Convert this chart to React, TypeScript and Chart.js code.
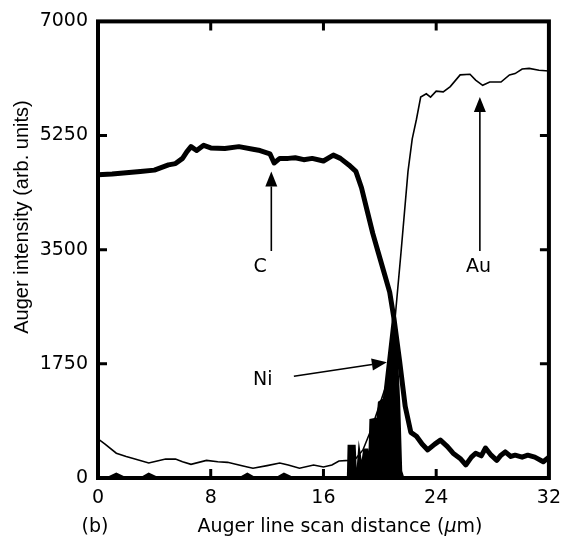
import React, { useEffect, useRef } from "react";
import { Chart, registerables } from "chart.js";

Chart.register(...registerables);

// ---- data ----
const cX = [0, 1, 2, 3, 4, 5, 5.5, 6, 6.3, 6.6, 7, 7.5, 8, 9, 10, 11, 11.5, 12.2, 12.5, 12.9, 13.5, 14, 14.6, 15.2, 16, 16.7, 17.2, 17.8, 18.3, 18.7, 19.1, 19.5, 19.9, 20.3, 20.7, 21.0, 21.4, 21.8, 22.2, 22.6, 23.0, 23.4, 23.9, 24.3, 24.8, 25.2, 25.7, 26.1, 26.5, 26.8, 27.2, 27.5, 27.9, 28.3, 28.6, 28.9, 29.3, 29.6, 30.1, 30.5, 31.0, 31.6, 32];
const cY = [4650, 4660, 4680, 4700, 4720, 4800, 4820, 4900, 5000, 5080, 5020, 5100, 5060, 5050, 5080, 5040, 5020, 4970, 4830, 4900, 4900, 4910, 4880, 4900, 4860, 4950, 4900, 4800, 4700, 4450, 4100, 3750, 3450, 3150, 2850, 2450, 1800, 1100, 700, 640, 520, 430, 520, 580, 480, 380, 300, 200, 320, 380, 340, 460, 350, 270, 350, 400, 330, 350, 320, 350, 320, 250, 320];

const auX = [0, 0.5, 1.3, 2.0, 2.5, 3.6, 4.2, 4.8, 5.5, 6.0, 6.6, 7.7, 8.5, 9.2, 10.0, 10.6, 11.0, 12.0, 12.9, 13.5, 14.3, 15.3, 16.0, 16.6, 17.1, 17.8, 18.3, 18.8, 19.4, 19.9, 20.4, 21.0, 21.5, 22.0, 22.3, 22.6, 22.9, 23.3, 23.6, 24.0, 24.5, 25.0, 25.7, 26.4, 26.8, 27.3, 27.8, 28.6, 29.2, 29.6, 30.1, 30.6, 31.3, 32];
const auY = [600, 520, 380, 330, 300, 230, 260, 290, 290, 250, 210, 270, 250, 240, 200, 170, 150, 190, 230, 200, 150, 200, 170, 200, 260, 270, 300, 430, 750, 1070, 1390, 2250, 3450, 4700, 5200, 5500, 5840, 5890, 5840, 5930, 5920, 6000, 6180, 6190, 6100, 6020, 6070, 6070, 6180, 6200, 6270, 6280, 6250, 6240];

const niX = [0, 0.8, 1.3, 1.8, 3.2, 3.6, 4.1, 10.2, 10.6, 11.0, 12.8, 13.2, 13.7, 17.7, 17.8, 17.85, 18.15, 18.25, 18.45, 18.55, 18.7, 18.8, 18.95, 19.05, 19.2, 19.3, 19.4, 19.9, 20.0, 20.35, 20.45, 20.95, 21.05, 21.3, 21.45, 21.6, 32];
const niY = [0, 0, 50, 0, 0, 50, 0, 0, 50, 0, 0, 50, 0, 0, 0, 480, 480, 0, 0, 300, 80, 200, 420, 420, 100, 100, 880, 900, 1150, 1200, 1400, 2350, 2300, 1200, 100, 0, 0];

const xTicks = [0, 8, 16, 24, 32];
const yTicks = [0, 1750, 3500, 5250, 7000];

const seriesNames = ["C", "Au", "Ni"];
const xTitleParts = ["Auger line scan distance (", "\u03bc", "m)"];
const yTitle = "Auger intensity (arb. units)";
const panelLabel = "(b)";

// annotation arrows in data coordinates: [label, labelX, labelY, tailX, tailY, tipX, tipY]
const annotations: [string, number, number, number, number, number, number][] = [
  ["C", 11.5, 3230, 12.3, 3480, 12.3, 4700],
  ["Au", 27.0, 3230, 27.1, 3480, 27.1, 5840],
  ["Ni", 11.7, 1500, 13.9, 1560, 20.5, 1775],
];

const pts = (xs: number[], ys: number[]) => xs.map((x, i) => ({ x, y: ys[i] }));

const TICK_FONT = "DejaVu Sans";
const TITLE_FONT = "Liberation Sans";

function drawArrow(ctx: CanvasRenderingContext2D, x1: number, y1: number, x2: number, y2: number) {
  const ang = Math.atan2(y2 - y1, x2 - x1);
  const hl = 15;
  const hw = 6;
  const bx = x2 - hl * Math.cos(ang);
  const by = y2 - hl * Math.sin(ang);
  ctx.beginPath();
  ctx.moveTo(x1, y1);
  ctx.lineTo(bx, by);
  ctx.lineWidth = 1.6;
  ctx.stroke();
  ctx.beginPath();
  ctx.moveTo(x2, y2);
  ctx.lineTo(bx + hw * Math.sin(ang), by - hw * Math.cos(ang));
  ctx.lineTo(bx - hw * Math.sin(ang), by + hw * Math.cos(ang));
  ctx.closePath();
  ctx.fill();
}

const decor = {
  id: "decor",
  afterDatasetsDraw(chart: any) {
    const { ctx, chartArea: a, scales } = chart;
    const x = scales.x;
    const y = scales.y;
    ctx.save();
    ctx.strokeStyle = "#000";
    ctx.fillStyle = "#000";
    // frame
    ctx.lineWidth = 4;
    ctx.strokeRect(a.left, a.top, a.right - a.left, a.bottom - a.top);
    // inward ticks
    ctx.lineWidth = 3;
    ctx.beginPath();
    xTicks.slice(1, -1).forEach((v) => {
      const px = x.getPixelForValue(v);
      ctx.moveTo(px, a.bottom);
      ctx.lineTo(px, a.bottom - 9);
      ctx.moveTo(px, a.top);
      ctx.lineTo(px, a.top + 9);
    });
    yTicks.slice(1, -1).forEach((v) => {
      const py = y.getPixelForValue(v);
      ctx.moveTo(a.left, py);
      ctx.lineTo(a.left + 9, py);
      ctx.moveTo(a.right, py);
      ctx.lineTo(a.right - 9, py);
    });
    ctx.stroke();
    // annotations
    ctx.font = `19px "${TICK_FONT}"`;
    ctx.textAlign = "center";
    ctx.textBaseline = "middle";
    annotations.forEach(([lab, lx, ly, tx, ty, hx, hy]) => {
      ctx.fillText(lab, x.getPixelForValue(lx), y.getPixelForValue(ly));
      drawArrow(ctx, x.getPixelForValue(tx), y.getPixelForValue(ty), x.getPixelForValue(hx), y.getPixelForValue(hy));
    });
    ctx.restore();
  },
  afterDraw(chart: any) {
    const { ctx } = chart;
    ctx.save();
    ctx.fillStyle = "#000";
    ctx.textBaseline = "middle";
    // y title
    ctx.save();
    ctx.translate(22, 217);
    ctx.rotate(-Math.PI / 2);
    ctx.textAlign = "center";
    ctx.font = `20px "${TITLE_FONT}"`;
    ctx.fillText(yTitle, 0, 0);
    ctx.restore();
    // x title with italic mu
    const ty = 527;
    const normal = `19px "${TICK_FONT}"`;
    const italic = `italic 19px "${TICK_FONT}"`;
    ctx.font = normal;
    const w0 = ctx.measureText(xTitleParts[0]).width;
    const w2 = ctx.measureText(xTitleParts[2]).width;
    ctx.font = italic;
    const w1 = ctx.measureText(xTitleParts[1]).width;
    const total = w0 + w1 + w2;
    let sx = 340 - total / 2;
    ctx.textAlign = "left";
    ctx.font = normal;
    ctx.fillText(xTitleParts[0], sx, ty);
    sx += w0;
    ctx.font = italic;
    ctx.fillText(xTitleParts[1], sx, ty);
    sx += w1;
    ctx.font = normal;
    ctx.fillText(xTitleParts[2], sx, ty);
    // panel label
    ctx.textAlign = "center";
    ctx.fillText(panelLabel, 95, ty);
    ctx.restore();
  },
};

export default function App() {
  const ref = useRef<HTMLCanvasElement | null>(null);
  useEffect(() => {
    document.body.style.margin = "0";
    const canvas = ref.current;
    if (!canvas) return;
    const chart = new Chart(canvas, {
      type: "line",
      data: {
        datasets: [
          { label: seriesNames[0], data: pts(cX, cY), borderColor: "#000", borderWidth: 5, pointRadius: 0, tension: 0, borderJoinStyle: "round", borderCapStyle: "round", fill: false },
          { label: seriesNames[1], data: pts(auX, auY), borderColor: "#000", borderWidth: 1.6, pointRadius: 0, tension: 0, fill: false },
          { label: seriesNames[2], data: pts(niX, niY), borderColor: "#000", backgroundColor: "#000", borderWidth: 4, pointRadius: 0, tension: 0, borderJoinStyle: "miter", fill: "origin" },
        ],
      },
      options: {
        animation: false,
        responsive: true,
        maintainAspectRatio: false,
        layout: { padding: { left: 0, top: 19, right: 13, bottom: 0 } },
        plugins: { legend: { display: false }, tooltip: { enabled: false } },
        scales: {
          x: {
            type: "linear",
            min: 0,
            max: 32,
            afterBuildTicks: (s: any) => { s.ticks = xTicks.map((v) => ({ value: v })); },
            afterFit: (s: any) => { s.height = 65; },
            grid: { display: false, drawTicks: false },
            border: { display: false },
            ticks: { color: "#000", padding: 9, font: { family: TICK_FONT, size: 19 }, maxRotation: 0 },
          },
          y: {
            type: "linear",
            min: 0,
            max: 7000,
            afterBuildTicks: (s: any) => { s.ticks = yTicks.map((v) => ({ value: v })); },
            afterFit: (s: any) => { s.width = 98; },
            grid: { display: false, drawTicks: false },
            border: { display: false },
            ticks: { color: "#000", padding: 10, font: { family: TICK_FONT, size: 19 }, callback: (v: any) => String(v) },
          },
        },
      },
      plugins: [decor],
    } as any);
    return () => chart.destroy();
  }, []);
  return (
    <div style={{ position: "absolute", left: 0, top: 0, width: 570, height: 543, background: "#fff" }}>
      <canvas ref={ref} />
    </div>
  );
}
